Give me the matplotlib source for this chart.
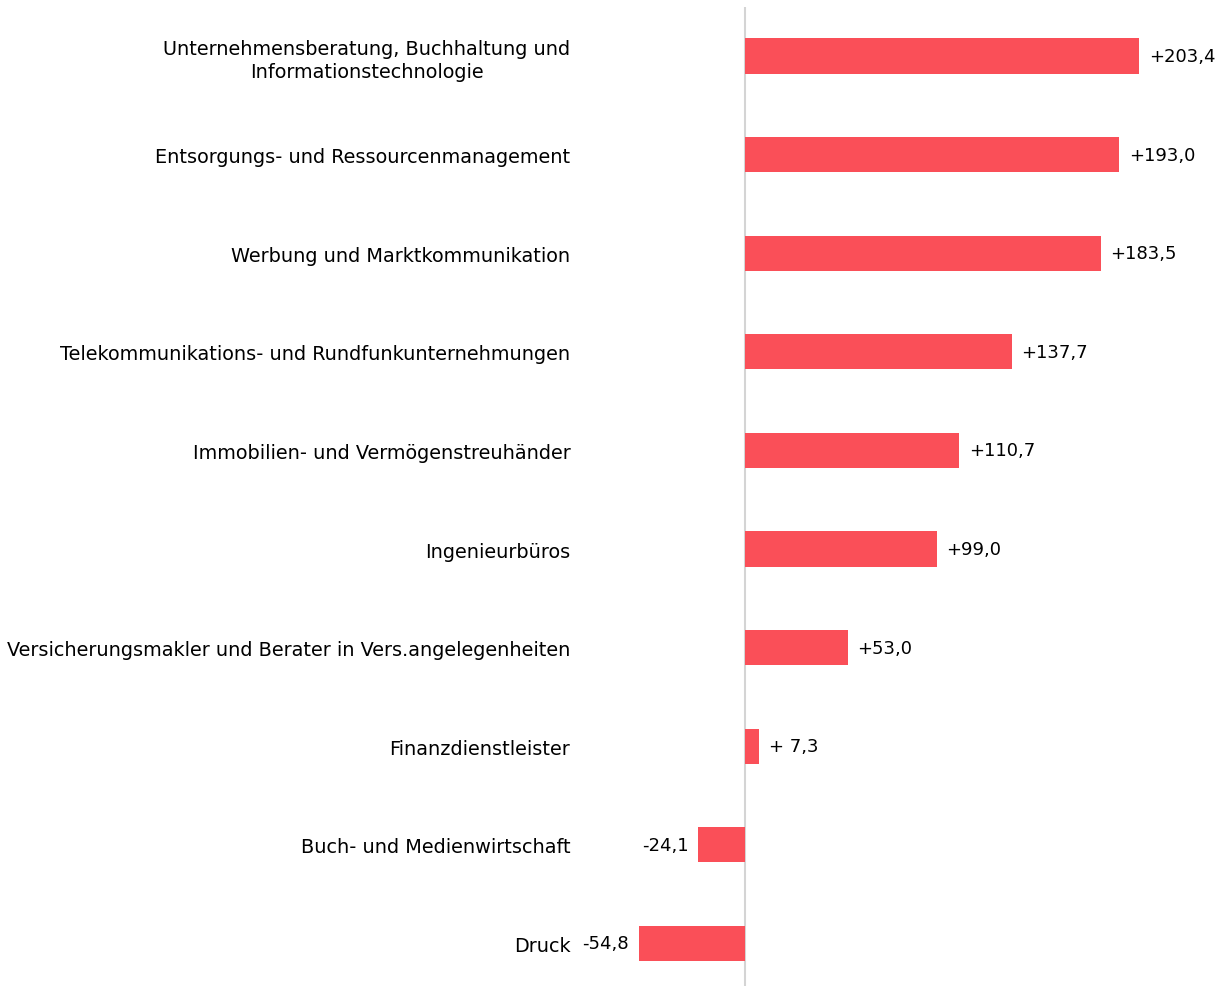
import matplotlib
matplotlib.use('Agg')
import matplotlib.pyplot as plt

# Data
categories = [
    'Unternehmensberatung, Buchhaltung und\nInformationstechnologie',
    'Entsorgungs- und Ressourcenmanagement',
    'Werbung und Marktkommunikation',
    'Telekommunikations- und Rundfunkunternehmungen',
    'Immobilien- und Vermögenstreuhänder',
    'Ingenieurbüros',
    'Versicherungsmakler und Berater in Vers.angelegenheiten',
    'Finanzdienstleister',
    'Buch- und Medienwirtschaft',
    'Druck',
]
values = [203.4, 193.0, 183.5, 137.7, 110.7, 99.0, 53.0, 7.3, -24.1, -54.8]

bar_color = '#FA4F58'

plt.rcParams['font.family'] = ['DejaVu Sans']

fig = plt.figure(figsize=(12.21, 9.87), dpi=100)
# axes spans x 580..1215 px, zero at 745 px
ax = fig.add_axes([580 / 1221, -6.7 / 987, 635 / 1221, 986 / 987])

y = list(range(len(categories)))
ax.barh(y, values, height=0.355, color=bar_color)
ax.set_ylim(len(categories) - 0.5, -0.5)
ax.set_xlim(-85.2, 242.6)

ax.set_yticks(y)
ax.set_yticklabels(categories, fontsize=13.9, linespacing=1.3)
ax.tick_params(axis='y', length=0, pad=7)
ax.set_xticks([])
for lbl in ax.get_yticklabels():
    lbl.set_horizontalalignment('right')
    lbl.set_multialignment('center')

for s in ['top', 'right', 'bottom', 'left']:
    ax.spines[s].set_visible(False)
ax.axvline(0, color='#d4d4d4', lw=1.5, zorder=0)

for yi, v in zip(y, values):
    num = f'{abs(v):.1f}'.replace('.', ',')
    if v >= 0:
        txt = '+' + (' ' if abs(v) < 10 else '') + num
        ax.annotate(txt, (v, yi), xytext=(7, 0), textcoords='offset points',
                    ha='left', va='center', fontsize=13)
    else:
        txt = '-' + num
        ax.annotate(txt, (v, yi), xytext=(-7, 0), textcoords='offset points',
                    ha='right', va='center', fontsize=13)

fig.savefig('out.png', dpi=100)
